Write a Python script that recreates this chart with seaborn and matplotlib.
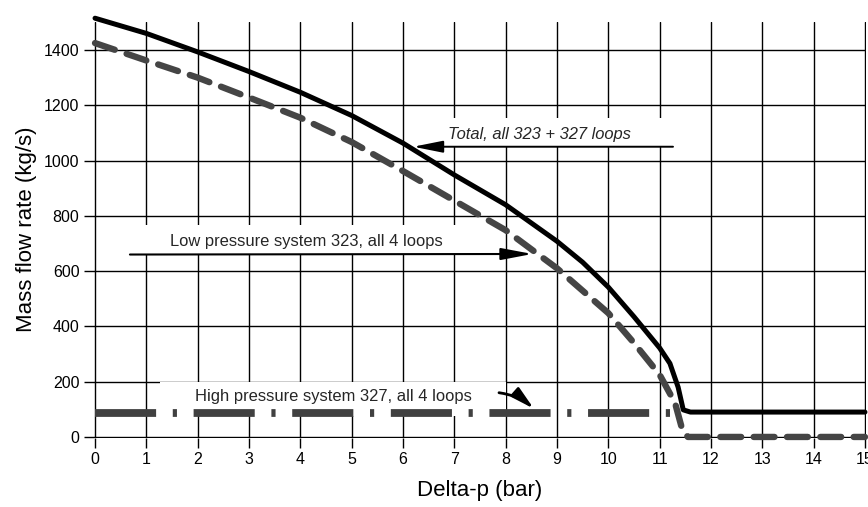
import matplotlib
matplotlib.use("Agg")
import matplotlib.pyplot as plt
from matplotlib.patches import Rectangle
import seaborn as sns
import pandas as pd

# ---- data ----
total_x = [0, 1, 2, 3, 4, 5, 6, 7, 8, 9, 9.5, 10, 10.5, 11, 11.2, 11.36, 11.46, 11.6, 13, 15]
total_y = [1515, 1460, 1393, 1322, 1247, 1163, 1063, 948, 840, 708, 632, 542, 435, 322, 266, 180, 98, 90, 90, 90]

low_x = [0, 1, 2, 3, 4, 5, 6, 7, 8, 9, 10, 10.5, 11, 11.3, 11.45, 11.55, 13, 15]
low_y = [1425, 1362, 1300, 1228, 1155, 1067, 962, 855, 748, 610, 448, 340, 225, 123, 20, 0, 0, 0]

high_x = [0, 2, 4, 6, 8, 10, 11.2]
high_y = [88, 88, 88, 88, 88, 88, 88]

x_ticks = list(range(0, 16))
y_ticks = [0, 200, 400, 600, 800, 1000, 1200, 1400]

label_total = "Total, all 323 + 327 loops"
label_low = "Low pressure system 323, all 4 loops"
label_high = "High pressure system 327, all 4 loops"

# ---- style ----
sns.set_theme(style="white")
plt.rcParams["font.family"] = ["Liberation Sans", "DejaVu Sans"]
plt.rcParams["lines.scale_dashes"] = False

fig = plt.figure(figsize=(8.68, 5.07), dpi=100)
ax = fig.add_axes([94 / 868, (507 - 437.5) / 507, (866 - 94) / 868, (437.5 - 21.8) / 507])

df_total = pd.DataFrame({"x": total_x, "y": total_y})
df_low = pd.DataFrame({"x": low_x, "y": low_y})
df_high = pd.DataFrame({"x": high_x, "y": high_y})

sns.lineplot(data=df_total, x="x", y="y", ax=ax, color="black", linewidth=3.6,
             estimator=None, sort=False, zorder=4, clip_on=False,
             solid_capstyle="round", solid_joinstyle="round")
sns.lineplot(data=df_low, x="x", y="y", ax=ax, color="#454545", linewidth=4.6,
             estimator=None, sort=False, zorder=3, clip_on=False,
             linestyle=(0, (15, 9)), dash_capstyle="round")
sns.lineplot(data=df_high, x="x", y="y", ax=ax, color="#404040", linewidth=5.6,
             estimator=None, sort=False, zorder=3, clip_on=False,
             linestyle=(0, (44, 12, 3, 12)), dash_capstyle="butt")

ax.set_xlim(-0.02, 15.02)
ax.set_ylim(-2, 1502)
ax.set_xticks(x_ticks)
ax.set_yticks(y_ticks)
ax.set_xticklabels([str(t) for t in x_ticks], fontsize=11.5)
ax.set_yticklabels([str(t) for t in y_ticks], fontsize=11.5)

for s in ax.spines.values():
    s.set_visible(False)
ax.set_axisbelow(True)
ax.grid(True, color="black", linewidth=1.0)
ax.tick_params(axis="both", which="both", direction="out", length=7.5, width=1.0,
               color="black", labelcolor="black", pad=3,
               bottom=True, left=True)

ax.set_xlabel("Delta-p (bar)", fontsize=16, labelpad=9, color="black")
ax.set_ylabel("Mass flow rate (kg/s)", fontsize=16, labelpad=5, color="black")

# white label boxes that interrupt the grid
for (x0, y0, w, h) in [(6.82, 1050, 4.5, 105), (0.68, 662, 6.9, 105), (1.27, 75, 6.73, 125)]:
    ax.add_patch(Rectangle((x0, y0), w, h, facecolor="white", edgecolor="none", zorder=1))

# annotations
ax.text(6.88, 1095, label_total, fontsize=11.9, style="italic", va="center", ha="left", zorder=5)
ax.annotate("", xy=(6.2, 1050), xytext=(11.26, 1050),
            arrowprops=dict(arrowstyle="-|>,head_length=1.8,head_width=0.36", lw=1.4,
                            color="black", mutation_scale=10, shrinkA=0, shrinkB=0),
            zorder=5)

ax.text(1.46, 708, label_low, fontsize=11.9, va="center", ha="left", zorder=5)
ax.annotate("", xy=(8.52, 662), xytext=(0.68, 660),
            arrowprops=dict(arrowstyle="-|>,head_length=1.9,head_width=0.36", lw=1.5,
                            color="black", mutation_scale=10, shrinkA=0, shrinkB=0),
            zorder=5)

ax.text(1.95, 147, label_high, fontsize=11.9, va="center", ha="left", zorder=5)
ax.annotate("", xy=(8.55, 102), xytext=(7.87, 160),
            arrowprops=dict(arrowstyle="-|>,head_length=1.4,head_width=0.35", lw=2.0,
                            color="black", mutation_scale=10, shrinkA=0, shrinkB=0,
                            connectionstyle="arc3,rad=-0.15"),
            zorder=5)

fig.savefig("out.png", dpi=100)
